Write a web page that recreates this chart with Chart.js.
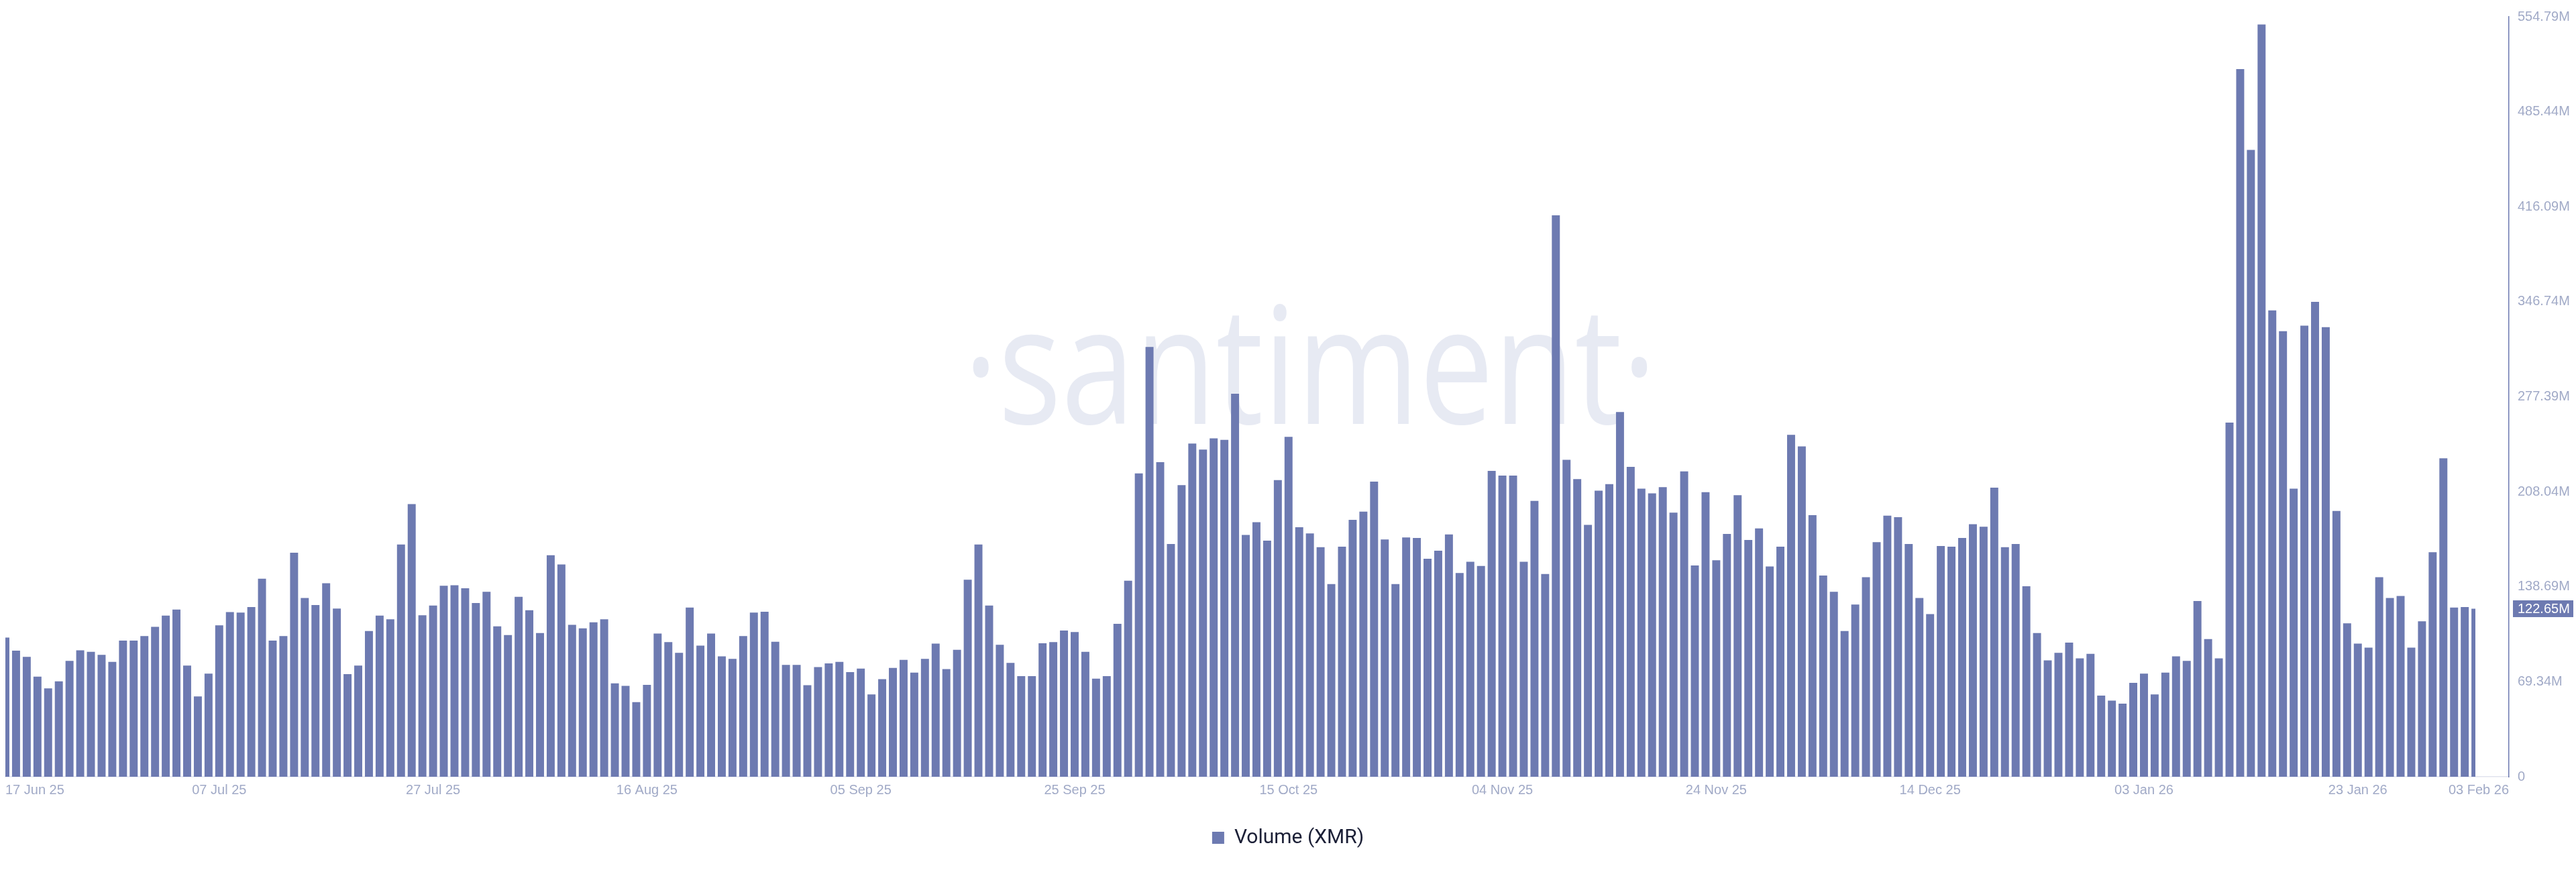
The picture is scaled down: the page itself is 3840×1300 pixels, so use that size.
<!DOCTYPE html>
<html>
<head>
<meta charset="utf-8">
<title>Volume (XMR)</title>
<script src="https://cdn.jsdelivr.net/npm/chart.js@4.4.1/dist/chart.umd.min.js"></script>
<style>
  html, body { margin: 0; padding: 0; background: #fff; }
</style>
</head>
<body>
<canvas id="chart" width="3840" height="1300"></canvas>
<script>
// Daily volume in millions, 17 Jun 2025 .. 03 Feb 2026 (one row = 20 days)
const volumes = [
  101.6, 92.0, 87.5, 73.1, 64.5, 69.7, 84.6, 92.3, 91.2, 89.0, 83.8, 99.4, 99.4, 102.7, 109.4, 117.6, 122.0, 81.2, 58.6, 75.3,
  110.5, 120.2, 119.8, 123.9, 144.6, 99.4, 102.7, 163.5, 130.5, 125.3, 141.3, 122.8, 74.9, 81.2, 106.4, 117.6, 115.0, 169.5, 199.1, 117.9,
  125.0, 139.4, 139.8, 137.6, 126.8, 135.0, 109.8, 103.5, 131.3, 121.6, 104.9, 161.7, 155.0, 110.9, 108.3, 112.7, 115.0, 68.2, 66.4, 54.5,
  67.1, 104.6, 98.3, 90.5, 123.5, 95.7, 104.6, 87.9, 86.0, 102.7, 119.8, 120.5, 98.6, 81.6, 81.6, 66.8, 80.1, 82.7, 83.8, 76.4,
  79.0, 60.1, 71.2, 79.4, 85.3, 76.0, 86.0, 97.2, 78.6, 92.7, 143.9, 169.5, 125.0, 96.4, 83.1, 73.4, 73.4, 97.5, 98.3, 106.8,
  105.7, 91.2, 71.6, 73.4, 111.6, 143.1, 221.4, 313.7, 229.6, 169.9, 212.9, 243.3, 238.8, 247.0, 245.9, 279.6, 176.5, 185.8, 172.4, 216.6,
  248.1, 182.1, 177.6, 167.6, 140.6, 168.0, 187.6, 193.6, 215.5, 173.2, 140.6, 174.7, 174.3, 159.1, 165.0, 176.9, 148.7, 156.9, 153.9, 223.3,
  219.9, 219.9, 156.9, 201.4, 148.0, 409.8, 231.4, 217.3, 183.9, 208.8, 213.6, 266.3, 226.2, 210.3, 206.9, 211.4, 192.8, 222.9, 154.3, 207.7,
  158.0, 177.3, 205.5, 172.8, 181.3, 153.5, 168.0, 249.6, 241.1, 191.0, 146.9, 135.0, 106.4, 125.7, 145.7, 171.3, 190.6, 189.5, 169.9, 130.5,
  118.7, 168.4, 168.0, 174.3, 184.3, 182.5, 211.0, 167.6, 169.9, 139.1, 104.9, 84.9, 90.5, 97.9, 86.4, 89.7, 59.3, 55.6, 53.4, 68.6,
  75.3, 60.1, 76.0, 87.9, 84.6, 128.3, 100.5, 86.4, 258.5, 516.6, 457.6, 549.2, 340.4, 325.2, 210.3, 329.3, 346.7, 328.2, 194.0, 112.0,
  97.2, 94.2, 145.7, 130.5, 132.0, 94.2, 113.5, 163.9, 232.5, 123.5, 123.9, 122.65
];

// x labels, one every 20 days, last one is the final day
const tickLabels = ['17 Jun 25', '07 Jul 25', '27 Jul 25', '16 Aug 25', '05 Sep 25', '25 Sep 25',
  '15 Oct 25', '04 Nov 25', '24 Nov 25', '14 Dec 25', '03 Jan 26', '23 Jan 26', '03 Feb 26'];
const tickStep = 20;

const yTicks = [0, 69.34, 138.69, 208.04, 277.39, 346.74, 416.09, 485.44, 554.79];

const barColor = 'rgb(109, 122, 177)';
const tickColor = '#a1aac7';
const tickFont = { family: '"Liberation Sans", Arial, sans-serif', size: 20 };

// faint brand text behind the bars
const watermark = {
  id: 'watermark',
  beforeDatasetsDraw(chart) {
    const ctx = chart.ctx;
    const text = '\u00B7santiment\u00B7';
    ctx.save();
    ctx.font = '400 243px "Open Sans"';
    ctx.fillStyle = '#e7eaf3';
    ctx.textAlign = 'left';
    ctx.textBaseline = 'alphabetic';
    const m = ctx.measureText(text);
    const ink = m.actualBoundingBoxLeft + m.actualBoundingBoxRight;
    ctx.translate(1450, 632);
    ctx.scale(1006 / ink, 1);
    ctx.fillText(text, m.actualBoundingBoxLeft, 0);
    ctx.restore();
  }
};

// highlighted label of the latest value on the right axis
const lastBadge = {
  id: 'lastBadge',
  afterDraw(chart) {
    const last = volumes[volumes.length - 1];
    const y = chart.scales.y.getPixelForValue(last);
    const x = chart.chartArea.right + 6;
    const ctx = chart.ctx;
    ctx.save();
    ctx.fillStyle = barColor;
    ctx.fillRect(x, y - 12.5, 90, 25);
    ctx.fillStyle = '#ffffff';
    ctx.font = '20px "Liberation Sans", Arial, sans-serif';
    ctx.textAlign = 'left';
    ctx.textBaseline = 'middle';
    ctx.fillText(last.toFixed(2) + 'M', x + 7, y + 1);
    ctx.restore();
  }
};

new Chart(document.getElementById('chart'), {
  type: 'bar',
  data: {
    datasets: [{
      label: 'Volume (XMR)',
      data: volumes.map((v, i) => ({ x: i, y: v })),
      backgroundColor: barColor,
      borderWidth: 0,
      barPercentage: 1,
      categoryPercentage: 0.75,
      clip: { left: 0, top: 0, bottom: 0, right: -50 }
    }]
  },
  options: {
    responsive: false,
    animation: false,
    events: [],
    layout: { padding: { top: 14, bottom: 26, left: 0, right: 0 } },
    plugins: {
      tooltip: { enabled: false },
      legend: {
        position: 'bottom',
        labels: {
          boxWidth: 18,
          boxHeight: 18,
          padding: 10,
          color: '#1b1f36',
          font: { family: 'Roboto, "Noto Sans", sans-serif', size: 30 }
        }
      }
    },
    scales: {
      x: {
        type: 'linear',
        offset: false,
        min: 0,
        max: 234.13,
        grid: { display: false, drawTicks: false, offset: false },
        border: { display: true, color: '#e1e4ee', width: 1.5 },
        afterBuildTicks(scale) {
          scale.ticks = tickLabels.map((_, i) => ({
            value: i < tickLabels.length - 1 ? i * tickStep : scale.max
          }));
        },
        afterFit(scale) { scale.height = 66; },
        ticks: {
          autoSkip: false,
          maxRotation: 0,
          align: 'inner',
          padding: 8,
          color: tickColor,
          font: tickFont,
          callback: (value, index) => tickLabels[index]
        }
      },
      y: {
        position: 'right',
        min: 0,
        max: 554.79,
        grid: { display: false, drawTicks: false },
        border: { display: true, color: barColor, width: 1.5 },
        afterBuildTicks(scale) {
          scale.ticks = yTicks.map(v => ({ value: v }));
        },
        afterFit(scale) { scale.width = 100; },
        ticks: {
          padding: 13,
          color: tickColor,
          font: tickFont,
          callback: v => (v === 0 ? '0' : v.toFixed(2) + 'M')
        }
      }
    }
  },
  plugins: [watermark, lastBadge]
});
</script>
</body>
</html>
